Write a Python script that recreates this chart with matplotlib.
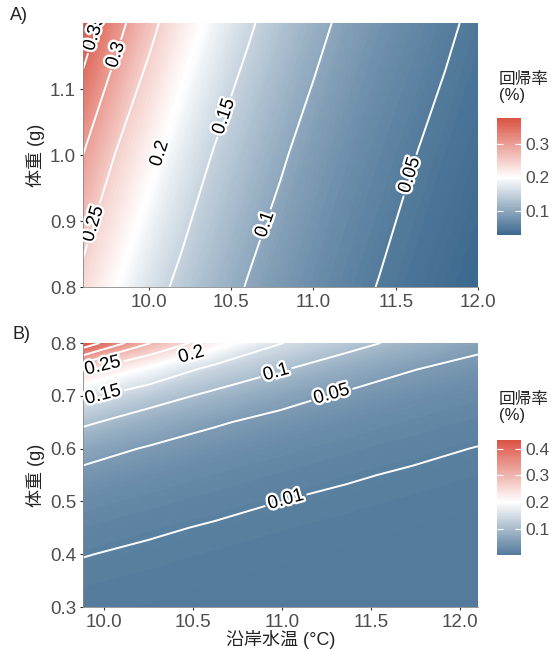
import matplotlib
matplotlib.use("Agg")
import matplotlib.pyplot as plt
import numpy as np
from matplotlib.colors import LinearSegmentedColormap, Normalize
from matplotlib.cm import ScalarMappable
import matplotlib.patheffects as pe

plt.rcParams['font.family'] = ['Liberation Sans', 'Noto Sans CJK JP']

# A) predicted return rate, rows = body weight (g), cols = coastal water temp (C)
temp_a = [9.6, 9.8, 10.0, 10.2, 10.4, 10.6, 10.8, 11.0, 11.2, 11.4, 11.6, 11.8, 12.0]
weight_a = [0.8, 1.0, 1.2]
rate_a = [
    [0.236, 0.200, 0.167, 0.140, 0.118, 0.098, 0.083, 0.070, 0.058, 0.049, 0.041, 0.034, 0.028],
    [0.300, 0.248, 0.211, 0.177, 0.147, 0.124, 0.104, 0.087, 0.073, 0.061, 0.051, 0.043, 0.036],
    [0.377, 0.317, 0.263, 0.221, 0.187, 0.156, 0.131, 0.110, 0.092, 0.077, 0.065, 0.054, 0.045],
]

# B)
temp_b = [9.88, 10.25, 10.62, 10.99, 11.36, 11.73, 12.1]
weight_b = [0.3, 0.35, 0.4, 0.45, 0.5, 0.55, 0.6, 0.65, 0.7, 0.75, 0.8]
rate_b = [
    [0.0042, 0.0030, 0.0022, 0.0016, 0.0011, 0.0008, 0.0006],
    [0.0066, 0.0048, 0.0035, 0.0025, 0.0018, 0.0013, 0.0009],
    [0.0105, 0.0076, 0.0055, 0.0040, 0.0029, 0.0021, 0.0015],
    [0.0166, 0.0120, 0.0087, 0.0063, 0.0046, 0.0033, 0.0024],
    [0.0261, 0.0190, 0.0138, 0.0100, 0.0072, 0.0052, 0.0038],
    [0.0408, 0.0299, 0.0218, 0.0158, 0.0115, 0.0083, 0.0060],
    [0.0662, 0.0467, 0.0342, 0.0249, 0.0181, 0.0132, 0.0095],
    [0.1073, 0.0771, 0.0538, 0.0391, 0.0285, 0.0208, 0.0151],
    [0.1606, 0.1205, 0.0897, 0.0629, 0.0446, 0.0326, 0.0238],
    [0.2558, 0.1895, 0.1350, 0.1032, 0.0733, 0.0511, 0.0374],
    [0.4330, 0.3028, 0.2170, 0.1516, 0.1160, 0.0852, 0.0597],
]

breaks = [0.01, 0.05, 0.1, 0.15, 0.2, 0.25, 0.3, 0.35, 0.4]

# where the contour labels sit (data coords)
label_pos_a = [(9.67, 1.185), (9.795, 1.152), (9.685, 0.894), (10.057, 1.003),
               (10.484, 1.056), (10.667, 0.898), (11.58, 0.97)]
label_pos_b = [(9.99, 0.758), (9.99, 0.705), (10.49, 0.777), (10.966, 0.743),
               (11.28, 0.70), (11.02, 0.503)]

low_col = "#36648B"
high_col = "#DB5343"
cmap = LinearSegmentedColormap.from_list("rb", [low_col, "white", high_col])

W, H = 556, 651
fig = plt.figure(figsize=(W / 100, H / 100), dpi=100)


def px(x0, y0, x1, y1):
    return [x0 / W, 1 - y1 / H, (x1 - x0) / W, (y1 - y0) / H]


def panel(ax, cax, temps, weights, rates, lab_pos, xlim, ylim, yticks, cticks):
    z = np.array(rates)
    zmin, zmax = z.min(), z.max()
    d = max(zmax - 0.2, 0.2 - zmin)
    norm = Normalize(0.2 - d, 0.2 + d)
    ax.contourf(temps, weights, z, levels=np.linspace(zmin, zmax, 160),
                cmap=cmap, norm=norm, antialiased=False)
    lv = [l for l in breaks if zmin < l < zmax]
    cs = ax.contour(temps, weights, z, levels=lv, colors="white", linewidths=1.4)
    txts = ax.clabel(cs, manual=lab_pos, inline=True, inline_spacing=3,
                     fmt=lambda v: f"{v:g}", fontsize=13.5, colors="black")
    for t in txts:
        t.set_path_effects([pe.withStroke(linewidth=3.5, foreground="white")])
        t.set_clip_on(True)
    ax.set_xlim(*xlim)
    ax.set_ylim(*ylim)
    ax.set_xticks([10.0, 10.5, 11.0, 11.5, 12.0])
    ax.set_yticks(yticks)
    ax.xaxis.set_major_formatter(lambda v, p: f"{v:.1f}")
    ax.yaxis.set_major_formatter(lambda v, p: f"{v:.1f}")
    ax.tick_params(length=2.5, width=0.8, color="#333333", labelcolor="#4d4d4d",
                   labelsize=13.5, pad=2.5)
    for s in ["top", "right"]:
        ax.spines[s].set_visible(False)
    for s in ["left", "bottom"]:
        ax.spines[s].set_color("#888888")
        ax.spines[s].set_linewidth(0.6)
    ax.set_ylabel("体重 (g)", fontsize=13, color="#222222")
    ax.yaxis.set_label_coords(-0.096, 0.5)

    cb = fig.colorbar(ScalarMappable(norm=norm, cmap=cmap), cax=cax,
                      boundaries=np.linspace(zmin, zmax, 200))
    cb.outline.set_visible(False)
    cb.set_ticks(cticks)
    cb.ax.yaxis.set_major_formatter(lambda v, p: f"{v:.1f}")
    cb.minorticks_off()
    cax.tick_params(direction="in", color="white", length=4.5, width=0.8,
                    left=True, right=True, labelleft=False, labelright=True,
                    labelsize=12.5, labelcolor="#4d4d4d", pad=3)


ax_a = fig.add_axes(px(83, 23, 478, 287))
cax_a = fig.add_axes(px(497, 118, 521, 235))
panel(ax_a, cax_a, temp_a, weight_a, rate_a, label_pos_a, (9.6, 12.0), (0.8, 1.2),
      [0.8, 0.9, 1.0, 1.1], [0.1, 0.2, 0.3])

ax_b = fig.add_axes(px(83, 343, 478, 607))
cax_b = fig.add_axes(px(497, 440, 521, 555))
panel(ax_b, cax_b, temp_b, weight_b, rate_b, label_pos_b, (9.88, 12.1), (0.3, 0.8),
      [0.3, 0.4, 0.5, 0.6, 0.7, 0.8], [0.1, 0.2, 0.3, 0.4])
ax_b.set_xlabel("沿岸水温 (°C)", fontsize=13, color="#222222")
ax_b.xaxis.set_label_coords(0.5, -0.087)

fig.text(499 / W, 1 - 72 / H, "回帰率\n(%)", fontsize=12, color="#222222",
         va="top", ha="left", linespacing=1.1)
fig.text(499 / W, 1 - 392 / H, "回帰率\n(%)", fontsize=12, color="#222222",
         va="top", ha="left", linespacing=1.1)
fig.text(28 / W, 1 - 15 / H, "A)", fontsize=13, color="#222222", ha="right", va="center")
fig.text(12 / W, 1 - 335 / H, "B)", fontsize=13, color="#222222", ha="left", va="center")

fig.savefig("out.png", dpi=100)
